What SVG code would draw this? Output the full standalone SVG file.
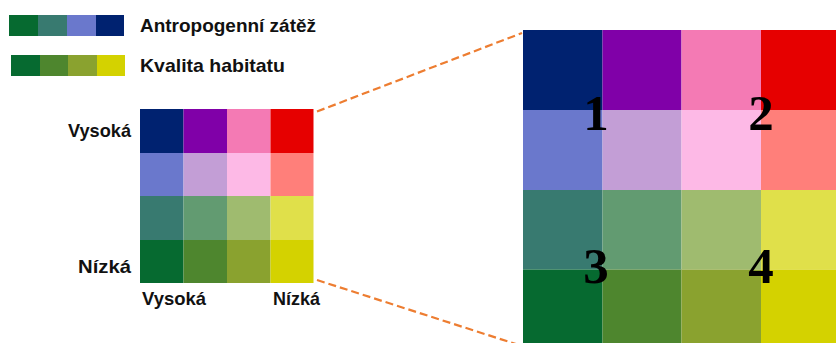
<svg xmlns="http://www.w3.org/2000/svg" width="836" height="343" viewBox="0 0 836 343">
<style>
.lbl{font-family:"Liberation Sans",Arial,sans-serif;font-weight:bold;font-size:18.5px;fill:#111}
.num{font-family:"Liberation Serif","Times New Roman",serif;font-weight:bold;font-size:51px;fill:#000;text-anchor:middle}
.dash{stroke:#ED7D31;stroke-width:2.2;stroke-dasharray:8 4;fill:none}
</style>
<rect width="836" height="343" fill="#fff"/>
<g id="legend-antropogenni">
<rect x="9" y="15" width="29" height="21" fill="#066A30"/>
<rect x="38" y="15" width="29" height="21" fill="#387A70"/>
<rect x="67" y="15" width="29" height="21" fill="#6A78CC"/>
<rect x="96" y="15" width="28" height="21" fill="#002270"/>
<text class="lbl" x="140" y="32" textLength="176" lengthAdjust="spacingAndGlyphs">Antropogenní zátěž</text>
</g>
<g id="legend-kvalita">
<rect x="11" y="55" width="29" height="21" fill="#066A30"/>
<rect x="40" y="55" width="28" height="21" fill="#4E862E"/>
<rect x="68" y="55" width="29" height="21" fill="#8AA22F"/>
<rect x="97" y="55" width="28" height="21" fill="#D4D200"/>
<text class="lbl" x="140" y="72" textLength="145" lengthAdjust="spacingAndGlyphs">Kvalita habitatu</text>
</g>
<g id="small-grid">
<rect x="140" y="109" width="43.5" height="44" fill="#002270"/>
<rect x="183.5" y="109" width="43.5" height="44" fill="#8000A8"/>
<rect x="227" y="109" width="43.5" height="44" fill="#F47AB4"/>
<rect x="270.5" y="109" width="43" height="44" fill="#E60000"/>
<rect x="140" y="153" width="43.5" height="43" fill="#6A78CC"/>
<rect x="183.5" y="153" width="43.5" height="43" fill="#C39ED6"/>
<rect x="227" y="153" width="43.5" height="43" fill="#FDB9E6"/>
<rect x="270.5" y="153" width="43" height="43" fill="#FF7F7A"/>
<rect x="140" y="196" width="43.5" height="44" fill="#387A70"/>
<rect x="183.5" y="196" width="43.5" height="44" fill="#629B71"/>
<rect x="227" y="196" width="43.5" height="44" fill="#9FBB6F"/>
<rect x="270.5" y="196" width="43" height="44" fill="#E0E04A"/>
<rect x="140" y="240" width="43.5" height="43" fill="#066A30"/>
<rect x="183.5" y="240" width="43.5" height="43" fill="#4E862E"/>
<rect x="227" y="240" width="43.5" height="43" fill="#8AA22F"/>
<rect x="270.5" y="240" width="43" height="43" fill="#D4D200"/>
</g>
<g id="axis-labels">
<text class="lbl" x="68" y="137" textLength="63" lengthAdjust="spacingAndGlyphs">Vysoká</text>
<text class="lbl" x="78" y="273" textLength="53" lengthAdjust="spacingAndGlyphs">Nízká</text>
<text class="lbl" x="142" y="305" textLength="64" lengthAdjust="spacingAndGlyphs">Vysoká</text>
<text class="lbl" x="273" y="305" textLength="47" lengthAdjust="spacingAndGlyphs">Nízká</text>
</g>
<g id="connectors">
<line class="dash" x1="317" y1="111.5" x2="522" y2="33"/>
<line class="dash" x1="317" y1="280" x2="522" y2="346"/>
</g>
<g id="big-grid">
<rect x="523" y="30" width="79.5" height="80" fill="#002270"/>
<rect x="602.5" y="30" width="79" height="80" fill="#8000A8"/>
<rect x="681.5" y="30" width="79.5" height="80" fill="#F47AB4"/>
<rect x="761" y="30" width="75" height="80" fill="#E60000"/>
<rect x="523" y="110" width="79.5" height="80" fill="#6A78CC"/>
<rect x="602.5" y="110" width="79" height="80" fill="#C39ED6"/>
<rect x="681.5" y="110" width="79.5" height="80" fill="#FDB9E6"/>
<rect x="761" y="110" width="75" height="80" fill="#FF7F7A"/>
<rect x="523" y="190" width="79.5" height="79.5" fill="#387A70"/>
<rect x="602.5" y="190" width="79" height="79.5" fill="#629B71"/>
<rect x="681.5" y="190" width="79.5" height="79.5" fill="#9FBB6F"/>
<rect x="761" y="190" width="75" height="79.5" fill="#E0E04A"/>
<rect x="523" y="269.5" width="79.5" height="74" fill="#066A30"/>
<rect x="602.5" y="269.5" width="79" height="74" fill="#4E862E"/>
<rect x="681.5" y="269.5" width="79.5" height="74" fill="#8AA22F"/>
<rect x="761" y="269.5" width="75" height="74" fill="#D4D200"/>
</g>
<g id="quadrant-numbers">
<text class="num" x="596" y="130">1</text>
<text class="num" x="761" y="130">2</text>
<text class="num" x="596" y="283">3</text>
<text class="num" x="761" y="283">4</text>
</g>
</svg>
